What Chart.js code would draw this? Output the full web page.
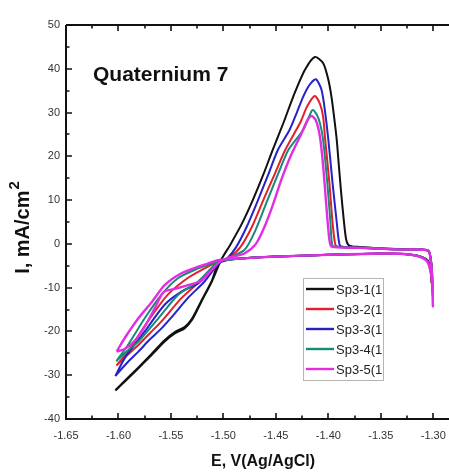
<!DOCTYPE html>
<html lang="en">
<head>
    <meta charset="UTF-8">
    <title>Quaternium 7 - Cyclic Voltammetry</title>
    <script src="https://cdn.jsdelivr.net/npm/chart.js@4.4.0/dist/chart.umd.min.js"></script>
    <style>
        html, body { margin: 0; padding: 0; background: #fff; overflow: hidden; }
        #cvChart { display: block; }
    </style>
</head>
<body>
    <canvas id="cvChart" width="449" height="472"></canvas>

    <script>
        // Potentials (V vs Ag/AgCl) and current densities (mA/cm2)
        const seriesNames = ['Sp3-1(1', 'Sp3-2(1', 'Sp3-3(1', 'Sp3-4(1', 'Sp3-5(1'];
        const seriesColors = ['#111111', '#e3202a', '#2323c8', '#178a78', '#e22ee2'];

        const eSp1 = [-1.603, -1.592, -1.581, -1.568, -1.556, -1.546, -1.537, -1.530, -1.521, -1.511, -1.502, -1.493, -1.482, -1.472, -1.462, -1.453, -1.443, -1.4335, -1.4224, -1.4129, -1.405, -1.400, -1.397, -1.394, -1.392, -1.390, -1.388, -1.3855, -1.383, -1.380, -1.370, -1.35, -1.33, -1.305, -1.3025, -1.3015, -1.3017, -1.3025, -1.304, -1.307, -1.315, -1.328, -1.35, -1.40, -1.45, -1.48, -1.498, -1.505, -1.511, -1.521, -1.530, -1.537, -1.546, -1.556, -1.568, -1.581, -1.592, -1.603];
        const iSp1 = [-33.5, -31.0, -28.4, -25.3, -22.3, -20.4, -19.3, -17.4, -13.2, -8.6, -3.6, 0.0, 4.8, 10.0, 15.8, 21.5, 27.5, 33.6, 39.7, 42.7, 41.3, 37.5, 33.6, 28.0, 23.8, 18.0, 12.3, 6.0, 1.0, -0.4, -0.7, -1.0, -1.2, -1.5, -3.2, -6.0, -9.0, -6.0, -4.3, -3.4, -2.7, -2.3, -2.2, -2.5, -2.9, -3.3, -3.6, -4.5, -8.4, -13.0, -17.1, -19.0, -20.1, -22.0, -25.0, -28.2, -30.8, -33.4];

        const eSp2 = [-1.602, -1.592, -1.581, -1.570, -1.559, -1.540, -1.521, -1.508, -1.495, -1.484, -1.473, -1.462, -1.451, -1.441, -1.427, -1.420, -1.4129, -1.408, -1.405, -1.403, -1.399, -1.396, -1.393, -1.388, -1.37, -1.35, -1.33, -1.305, -1.3025, -1.3012, -1.3010, -1.3018, -1.304, -1.307, -1.315, -1.328, -1.35, -1.40, -1.45, -1.48, -1.500, -1.510, -1.518, -1.534, -1.553, -1.572, -1.591, -1.602];
        const iSp2 = [-27.8, -25.5, -23.1, -20.4, -17.7, -12.4, -8.2, -4.8, -3.2, -0.8, 3.8, 10.0, 16.0, 21.5, 27.6, 31.5, 33.8, 32.0, 29.1, 23.8, 14.0, 5.0, -0.4, -0.7, -0.9, -1.1, -1.3, -1.5, -3.4, -7.0, -11.0, -7.0, -4.6, -3.5, -2.7, -2.3, -2.2, -2.5, -2.9, -3.3, -3.8, -4.6, -5.6, -7.8, -11.6, -17.7, -24.6, -27.8];

        const eSp3 = [-1.603, -1.592, -1.581, -1.570, -1.559, -1.546, -1.534, -1.518, -1.505, -1.496, -1.488, -1.478, -1.467, -1.457, -1.448, -1.437, -1.430, -1.424, -1.418, -1.4119, -1.4065, -1.403, -1.400, -1.396, -1.392, -1.389, -1.384, -1.37, -1.35, -1.33, -1.305, -1.3025, -1.3012, -1.3008, -1.3016, -1.304, -1.307, -1.315, -1.328, -1.35, -1.40, -1.45, -1.48, -1.498, -1.505, -1.515, -1.524, -1.540, -1.556, -1.575, -1.594, -1.603];
        const iSp3 = [-30.2, -27.2, -24.6, -21.8, -19.3, -15.8, -12.4, -8.6, -4.6, -3.2, -0.8, 3.8, 10.0, 16.0, 21.5, 26.0, 30.0, 33.6, 36.3, 37.6, 35.2, 30.0, 23.8, 14.0, 5.0, -0.4, -0.7, -0.9, -1.1, -1.3, -1.5, -3.4, -6.5, -10.0, -6.5, -4.5, -3.5, -2.7, -2.3, -2.2, -2.5, -2.9, -3.3, -3.8, -4.5, -7.0, -9.0, -10.9, -13.9, -20.0, -26.1, -30.2];

        const eSp4 = [-1.602, -1.592, -1.581, -1.562, -1.543, -1.524, -1.508, -1.495, -1.480, -1.470, -1.458, -1.447, -1.438, -1.424, -1.418, -1.415, -1.411, -1.408, -1.405, -1.401, -1.398, -1.396, -1.390, -1.37, -1.35, -1.33, -1.305, -1.3025, -1.3010, -1.3006, -1.3014, -1.304, -1.307, -1.315, -1.328, -1.35, -1.40, -1.45, -1.48, -1.502, -1.512, -1.524, -1.543, -1.559, -1.575, -1.591, -1.602];
        const iSp4 = [-26.8, -24.5, -22.3, -17.0, -11.6, -8.6, -4.8, -3.2, -1.4, 2.8, 10.0, 16.5, 21.5, 26.0, 29.3, 30.6, 29.5, 27.6, 23.8, 14.0, 5.0, -0.4, -0.7, -0.9, -1.1, -1.3, -1.5, -3.5, -7.5, -12.0, -7.5, -4.7, -3.6, -2.7, -2.3, -2.2, -2.5, -2.9, -3.3, -3.8, -4.6, -5.6, -7.8, -11.6, -17.0, -23.1, -26.8];

        const eSp5 = [-1.6017, -1.594, -1.584, -1.574, -1.565, -1.557, -1.545, -1.532, -1.521, -1.512, -1.503, -1.494, -1.480, -1.469, -1.461, -1.453, -1.445, -1.436, -1.426, -1.420, -1.416, -1.412, -1.408, -1.405, -1.402, -1.3995, -1.3975, -1.392, -1.37, -1.35, -1.33, -1.305, -1.3025, -1.3008, -1.3004, -1.3012, -1.304, -1.307, -1.315, -1.328, -1.35, -1.40, -1.45, -1.48, -1.505, -1.515, -1.524, -1.540, -1.556, -1.568, -1.581, -1.594, -1.6017];
        const iSp5 = [-24.6, -24.0, -22.0, -18.5, -14.5, -11.0, -10.2, -9.3, -8.4, -6.2, -4.0, -3.1, -2.2, 0.0, 3.8, 8.8, 14.5, 20.0, 25.0, 28.2, 29.2, 28.3, 24.5, 18.0, 9.0, 2.0, -0.5, -0.8, -0.9, -1.1, -1.3, -1.5, -3.6, -8.5, -14.3, -8.5, -5.0, -3.7, -2.8, -2.3, -2.2, -2.5, -2.9, -3.3, -3.7, -4.5, -5.2, -6.7, -9.4, -13.2, -17.0, -21.5, -24.6];

        const potentials = [eSp1, eSp2, eSp3, eSp4, eSp5];
        const currents = [iSp1, iSp2, iSp3, iSp4, iSp5];

        const xTicks = [-1.65, -1.60, -1.55, -1.50, -1.45, -1.40, -1.35, -1.30];
        const yTicks = [-40, -30, -20, -10, 0, 10, 20, 30, 40, 50];
        const xMinorTicks = [-1.625, -1.575, -1.525, -1.475, -1.425, -1.375, -1.325];
        const yMinorTicks = [-35, -25, -15, -5, 5, 15, 25, 35, 45];

        const datasets = seriesNames.map((name, k) => ({
            label: name,
            data: potentials[k].map((e, i) => ({ x: e, y: currents[k][i] })),
            showLine: true,
            borderColor: seriesColors[k],
            backgroundColor: seriesColors[k],
            borderWidth: k === 4 ? 2.4 : 2,
            pointRadius: 0,
            tension: 0.25,
            order: 4 - k
        }));

        // axes frame, inward ticks, titles, annotation and legend
        const decorPlugin = {
            id: 'decor',
            afterDraw(chart) {
                const ctx = chart.ctx;
                const area = chart.chartArea;
                const xs = chart.scales.x, ys = chart.scales.y;
                ctx.save();
                ctx.strokeStyle = '#111';
                ctx.lineWidth = 2;
                ctx.beginPath();
                ctx.moveTo(area.left, area.top); ctx.lineTo(area.right, area.top);
                ctx.moveTo(area.left, area.top); ctx.lineTo(area.left, area.bottom);
                ctx.moveTo(area.left - 1, area.bottom); ctx.lineTo(area.right, area.bottom);
                ctx.stroke();

                ctx.lineWidth = 1.6;
                ctx.beginPath();
                const tickX = (list, len) => list.forEach(v => {
                    const px = Math.round(xs.getPixelForValue(v));
                    ctx.moveTo(px, area.bottom); ctx.lineTo(px, area.bottom - len);
                    ctx.moveTo(px, area.top); ctx.lineTo(px, area.top + len);
                });
                const tickY = (list, len) => list.forEach(v => {
                    const py = Math.round(ys.getPixelForValue(v));
                    ctx.moveTo(area.left, py); ctx.lineTo(area.left + len, py);
                });
                tickX(xTicks, 6); tickX(xMinorTicks, 3.5);
                tickY(yTicks, 6); tickY(yMinorTicks, 3.5);
                ctx.stroke();

                ctx.fillStyle = '#111';
                ctx.textBaseline = 'middle';
                ctx.textAlign = 'left';
                ctx.font = 'bold 21px "Liberation Sans", Arial, sans-serif';
                ctx.fillText('Quaternium 7', 93, 75);

                ctx.textAlign = 'center';
                ctx.font = 'bold 16px "Liberation Sans", Arial, sans-serif';
                ctx.fillText('E, V(Ag/AgCl)', 263, 462);

                ctx.save();
                ctx.translate(23, 228);
                ctx.rotate(-Math.PI / 2);
                ctx.textAlign = 'left';
                ctx.font = 'bold 20px "Liberation Sans", Arial, sans-serif';
                const main = 'I, mA/cm';
                const w = ctx.measureText(main).width;
                ctx.font = 'bold 15px "Liberation Sans", Arial, sans-serif';
                const w2 = ctx.measureText('2').width;
                const start = -(w + w2) / 2;
                ctx.font = 'bold 20px "Liberation Sans", Arial, sans-serif';
                ctx.fillText(main, start, 0);
                ctx.font = 'bold 15px "Liberation Sans", Arial, sans-serif';
                ctx.fillText('2', start + w + 1, -8);
                ctx.restore();

                // legend box
                ctx.strokeStyle = '#b5b5b5';
                ctx.lineWidth = 1;
                ctx.strokeRect(303.5, 278.5, 80, 102);
                ctx.font = '13px "Liberation Sans", Arial, sans-serif';
                ctx.textAlign = 'left';
                seriesNames.forEach((name, k) => {
                    const y = 289 + k * 20;
                    ctx.strokeStyle = seriesColors[k];
                    ctx.lineWidth = 2.4;
                    ctx.beginPath();
                    ctx.moveTo(306, y); ctx.lineTo(334, y);
                    ctx.stroke();
                    ctx.fillStyle = '#222';
                    ctx.fillText(name, 336, y + 1);
                });
                ctx.restore();
            }
        };

        new Chart(document.getElementById('cvChart'), {
            type: 'scatter',
            data: { datasets },
            options: {
                responsive: false,
                animation: false,
                maintainAspectRatio: false,
                layout: { padding: { top: 25, left: 0, right: 0, bottom: 0 } },
                plugins: { legend: { display: false }, tooltip: { enabled: false } },
                scales: {
                    x: {
                        type: 'linear',
                        min: -1.65,
                        max: -1.285,
                        afterBuildTicks: s => { s.ticks = xTicks.map(v => ({ value: v })); },
                        afterFit: s => { s.height = 53; },
                        grid: { display: false, tickLength: 8 },
                        border: { display: false },
                        ticks: {
                            padding: 2,
                            color: '#333',
                            font: { family: '"Liberation Sans", Arial, sans-serif', size: 11 },
                            callback: v => v.toFixed(2)
                        }
                    },
                    y: {
                        type: 'linear',
                        min: -40,
                        max: 50,
                        afterBuildTicks: s => { s.ticks = yTicks.map(v => ({ value: v })); },
                        afterFit: s => { s.width = 66; },
                        grid: { display: false, tickLength: 4 },
                        border: { display: false },
                        ticks: {
                            padding: 2,
                            color: '#333',
                            font: { family: '"Liberation Sans", Arial, sans-serif', size: 11 }
                        }
                    }
                }
            },
            plugins: [decorPlugin]
        });
    </script>
</body>
</html>
